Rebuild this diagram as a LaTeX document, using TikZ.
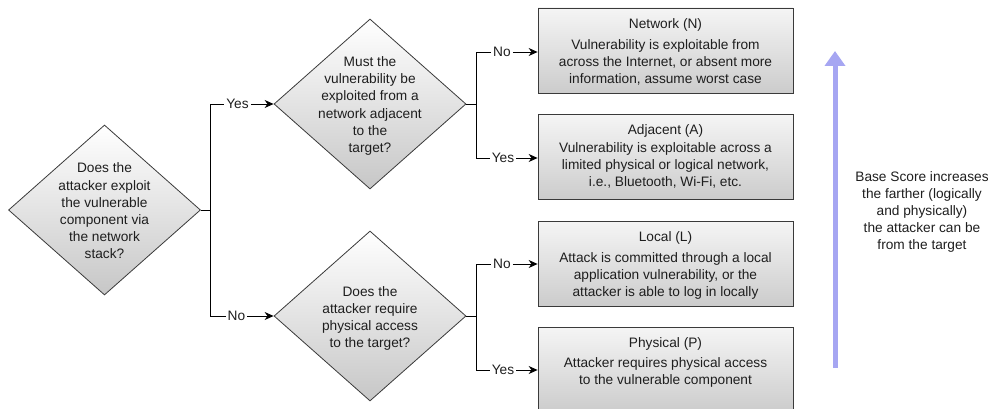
\documentclass[tikz,border=0pt]{standalone}
\usepackage{fontspec}
\setmainfont{Liberation Sans}
\usetikzlibrary{shapes.geometric,arrows.meta,positioning}
\definecolor{txt}{HTML}{1E1E1E}
\definecolor{edge}{HTML}{3A3A3A}
\definecolor{lav}{HTML}{A6A6F2}
\tikzset{
  dia/.style={diamond, draw=edge, line width=0.8pt, minimum width=192pt, minimum height=170pt, inner sep=0pt,
    top color=white, bottom color=black!22, shape aspect=1.13},
  dtext/.style={align=center, font=\fontsize{13.7}{17.2}\selectfont, text=txt},
  box/.style={rectangle, draw=edge, line width=0.8pt, minimum width=255pt, minimum height=85pt, inner sep=0pt,
    top color=black!4, bottom color=black!20},
  btext/.style={align=center, font=\fontsize{13.7}{17}\selectfont, text=txt, anchor=north, inner sep=0pt},
  lbl/.style={font=\fontsize{13.7}{15}\selectfont, text=txt, inner sep=2pt},
  conn/.style={draw=black, line width=0.8pt},
  arr/.style={conn, -{Stealth[length=9pt,width=8pt]}},
}
\begin{document}
\begin{tikzpicture}[x=1pt,y=-1pt]
\useasboundingbox (0,0) rectangle (988,409);
\begin{scope}
\clip (0,0) rectangle (988,409);
% diamonds
\node[dia] (d1) at (104.5,210) {};
\node[dtext] (t1) at (104.5,211) {Does the\\attacker exploit\\the vulnerable\\component via\\the network\\stack?};
\node[dia] (d2) at (370,104) {};
\node[dtext] (t2) at (370,106) {Must the\\vulnerability be\\exploited from a\\network adjacent\\to the\\target?};
\node[dia] (d3) at (370,316) {};
\node[dtext] (t3) at (370,318.5) {Does the\\attacker require\\physical access\\to the target?};
% boxes
\node[box] (bn) at (665.5,50.5) {};
\node[box] (ba) at (665.5,157) {};
\node[box] (bl) at (665.5,263.5) {};
\node[box] (bp) at (665.5,369.5) {};
\node[btext] (tn) at ([yshift=-11pt]bn.north) {Network (N)\\[3.5pt]Vulnerability is exploitable from\\across the Internet, or absent more\\information, assume worst case};
\node[btext] (ta) at ([yshift=-10pt]ba.north) {Adjacent (A)\\[1pt]Vulnerability is exploitable across a\\limited physical or logical network,\\i.e., Bluetooth, Wi-Fi, etc.};
\node[btext] (tl) at ([yshift=-10.5pt]bl.north) {Local (L)\\[4pt]Attack is committed through a local\\application vulnerability, or the\\attacker is able to log in locally};
\node[btext] (tp) at ([yshift=-10.5pt]bp.north) {Physical (P)\\[3pt]Attacker requires physical access\\to the vulnerable component};
\end{scope}
% labels
\node[lbl] (y1) at (237.5,104) {Yes};
\node[lbl] (n1) at (236.5,316) {No};
\node[lbl] (n2) at (502,52) {No};
\node[lbl] (y2) at (503,158) {Yes};
\node[lbl] (n3) at (502,264) {No};
\node[lbl] (y3) at (503,370) {Yes};
% connectors
\coordinate (j1) at (210,210);
\coordinate (j2) at (476,104);
\coordinate (j3) at (476,316);
\draw[conn] (d1.east) -- (j1);
\draw[conn] (j1) |- (y1.west);
\draw[conn] (j1) |- (n1.west);
\draw[arr] (y1.east) -- (d2.west);
\draw[arr] (n1.east) -- (d3.west);
\draw[conn] (d2.east) -- (j2);
\draw[conn] (j2) |- (n2.west);
\draw[conn] (j2) |- (y2.west);
\draw[arr] (n2.east) -- (bn.west |- n2.east);
\draw[arr] (y2.east) -- (ba.west |- y2.east);
\draw[conn] (d3.east) -- (j3);
\draw[conn] (j3) |- (n3.west);
\draw[conn] (j3) |- (y3.west);
\draw[arr] (n3.east) -- (bl.west |- n3.east);
\draw[arr] (y3.east) -- (bp.west |- y3.east);
% blue arrow
\coordinate (ab) at (835,368);
\coordinate (at) at (835,51);
\draw[lav, line width=5pt, -{Triangle[length=15pt,width=20pt]}] (ab) -- (at);
\node[dtext, font=\fontsize{13.7}{17}\selectfont] (note) at (922,212) {Base Score increases\\the farther (logically\\and physically)\\the attacker can be\\from the target};
\end{tikzpicture}
\end{document}
